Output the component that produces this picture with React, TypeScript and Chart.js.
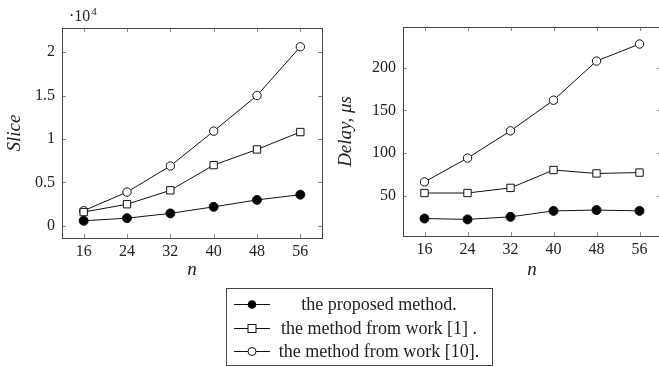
import React, { useEffect, useRef } from "react";
import { Chart, registerables } from "chart.js";
Chart.register(...registerables);

const nValues = [16, 24, 32, 40, 48, 56];
const sliceProposed = [600, 900, 1450, 2200, 3000, 3600];
const sliceWork1 = [1600, 2500, 4100, 7000, 8800, 10800];
const sliceWork10 = [1750, 3900, 6900, 10900, 15000, 20600];
const delayProposed = [23, 22, 25, 32, 33, 32];
const delayWork1 = [53, 53, 59, 80, 76, 77];
const delayWork10 = [66, 94, 126, 162, 208, 228];
const xTicks = [16, 24, 32, 40, 48, 56];
const sliceTicks = [0, 5000, 10000, 15000, 20000];
const sliceTickLabels = ["0", "0.5", "1", "1.5", "2"];
const delayTicks = [50, 100, 150, 200];
const delayTickLabels = ["50", "100", "150", "200"];
const legendLabels = [
  "the proposed method.",
  "the method from work [1] .",
  "the method from work [10].",
];

const SERIF = "'Liberation Serif', 'DejaVu Serif', serif";
const TEXT = "#222";

const framePlugin = {
  id: "frame",
  beforeDatasetsDraw(chart: any, _args: any, opts: any) {
    const { ctx, chartArea: a, scales } = chart;
    const tl = 4;
    ctx.save();
    ctx.strokeStyle = "#8a8a8a";
    ctx.lineWidth = 1;
    ctx.beginPath();
    for (const t of scales.x.ticks) {
      const px = Math.round(scales.x.getPixelForValue(t.value)) + 0.5;
      ctx.moveTo(px, a.bottom);
      ctx.lineTo(px, a.bottom - tl);
      ctx.moveTo(px, a.top);
      ctx.lineTo(px, a.top + tl);
    }
    for (const t of scales.y.ticks) {
      const py = Math.round(scales.y.getPixelForValue(t.value)) + 0.5;
      ctx.moveTo(a.left, py);
      ctx.lineTo(a.left + tl, py);
      ctx.moveTo(a.right, py);
      ctx.lineTo(a.right - tl, py);
    }
    ctx.stroke();
    ctx.strokeStyle = "#444";
    ctx.strokeRect(
      Math.round(a.left) + 0.5,
      Math.round(a.top) + 0.5,
      Math.round(a.right - a.left),
      Math.round(a.bottom - a.top)
    );
    if (opts && opts.multiplier) {
      ctx.fillStyle = TEXT;
      ctx.textBaseline = "alphabetic";
      ctx.textAlign = "left";
      ctx.font = `16px ${SERIF}`;
      ctx.fillText("\u00b710", 69, 21);
      const w = ctx.measureText("\u00b710").width;
      ctx.font = `11px ${SERIF}`;
      ctx.fillText("4", 69 + w + 1, 15);
    }
    ctx.restore();
  },
};

function makeDatasets(p: number[], w1: number[], w10: number[]) {
  const pts = (arr: number[]) => nValues.map((x, i) => ({ x, y: arr[i] }));
  const base = {
    borderColor: "#111",
    borderWidth: 1,
    pointBorderColor: "#111",
    pointBorderWidth: 1,
    tension: 0,
  };
  return [
    {
      ...base,
      label: legendLabels[0],
      data: pts(p),
      pointStyle: "circle",
      pointRadius: 4.5,
      pointBackgroundColor: "#000",
    },
    {
      ...base,
      label: legendLabels[1],
      data: pts(w1),
      pointStyle: "rect",
      pointRadius: 5.2,
      pointBackgroundColor: "#fff",
    },
    {
      ...base,
      label: legendLabels[2],
      data: pts(w10),
      pointStyle: "circle",
      pointRadius: 4.2,
      pointBackgroundColor: "#fff",
    },
  ];
}

type PanelProps = {
  left: number;
  width: number;
  yWidth: number;
  padTop: number;
  padRight: number;
  xHeight: number;
  yMin: number;
  yMax: number;
  yTicks: number[];
  yLabels: string[];
  yTitle: string;
  titlePad: number;
  datasets: any[];
  multiplier?: boolean;
};

function Panel(props: PanelProps) {
  const ref = useRef<HTMLCanvasElement | null>(null);
  useEffect(() => {
    if (!ref.current) return;
    const tickFont = { family: SERIF, size: 16 };
    const titleFont = { family: SERIF, size: 19, style: "italic" as const };
    const chart = new Chart(ref.current, {
      type: "line",
      data: { datasets: props.datasets },
      plugins: [framePlugin],
      options: {
        animation: false,
        responsive: false,
        maintainAspectRatio: false,
        layout: {
          padding: { top: props.padTop, right: props.padRight, left: 0, bottom: 0 },
        },
        plugins: {
          legend: { display: false },
          tooltip: { enabled: false },
          frame: { multiplier: !!props.multiplier },
        } as any,
        scales: {
          x: {
            type: "linear",
            min: 12,
            max: 60,
            grid: { display: false, drawTicks: false },
            border: { display: false },
            afterBuildTicks: (s: any) => {
              s.ticks = xTicks.map((v) => ({ value: v }));
            },
            afterFit: (s: any) => {
              s.height = props.xHeight;
            },
            ticks: {
              font: tickFont,
              color: TEXT,
              padding: 4,
              maxRotation: 0,
              callback: (v: any) => String(v),
            },
            title: {
              display: true,
              text: "n",
              font: titleFont,
              color: TEXT,
              padding: { top: 0, bottom: 9 },
            },
          },
          y: {
            type: "linear",
            min: props.yMin,
            max: props.yMax,
            grid: { display: false, drawTicks: false },
            border: { display: false },
            afterBuildTicks: (s: any) => {
              s.ticks = props.yTicks.map((v) => ({ value: v }));
            },
            afterFit: (s: any) => {
              s.width = props.yWidth;
            },
            ticks: {
              font: tickFont,
              color: TEXT,
              padding: 7,
              callback: (v: any) => {
                const i = props.yTicks.indexOf(Number(v));
                return i >= 0 ? props.yLabels[i] : "";
              },
            },
            title: {
              display: true,
              text: props.yTitle,
              font: titleFont,
              color: TEXT,
              padding: { top: props.titlePad, bottom: 0 },
            },
          },
        },
      } as any,
    });
    return () => chart.destroy();
  }, []);
  return (
    <canvas
      ref={ref}
      width={props.width}
      height={290}
      style={{ position: "absolute", left: props.left, top: 0, width: props.width, height: 290 }}
    />
  );
}

function Marker({ kind }: { kind: number }) {
  return (
    <svg width={40} height={14} style={{ position: "absolute", left: 6, top: -7 }}>
      <line x1={1} y1={7.5} x2={37} y2={7.5} stroke="#111" strokeWidth={1} />
      {kind === 0 && <circle cx={19} cy={7.5} r={4.3} fill="#000" />}
      {kind === 1 && (
        <rect x={15} y={3.5} width={8} height={8} fill="#fff" stroke="#111" strokeWidth={1} />
      )}
      {kind === 2 && <circle cx={19} cy={7.5} r={4} fill="#fff" stroke="#111" strokeWidth={1} />}
    </svg>
  );
}

export default function App() {
  const rows = [16, 39.5, 63];
  return (
    <div
      style={{
        position: "fixed",
        left: 0,
        top: 0,
        width: 659,
        height: 367,
        overflow: "hidden",
        background: "#fff",
      }}
    >
      <Panel
        left={0}
        width={330}
        yWidth={62}
        padTop={28}
        padRight={8}
        xHeight={52}
        yMin={-1380}
        yMax={22760}
        yTicks={sliceTicks}
        yLabels={sliceTickLabels}
        yTitle="Slice"
        titlePad={4}
        datasets={makeDatasets(sliceProposed, sliceWork1, sliceWork10)}
        multiplier
      />
      <Panel
        left={330}
        width={340}
        yWidth={73}
        padTop={27}
        padRight={9}
        xHeight={54}
        yMin={2.5}
        yMax={248}
        yTicks={delayTicks}
        yLabels={delayTickLabels}
        yTitle={"Delay, \u03bcs"}
        titlePad={5}
        datasets={makeDatasets(delayProposed, delayWork1, delayWork10)}
      />
      <div
        style={{
          position: "absolute",
          left: 226,
          top: 288,
          width: 267,
          height: 78,
          boxSizing: "border-box",
          border: "1px solid #444",
          fontFamily: SERIF,
          fontSize: 18,
          color: TEXT,
        }}
      >
        {legendLabels.map((lab, i) => (
          <div key={i} style={{ position: "absolute", left: 0, top: rows[i] - 1, width: "100%", height: 0 }}>
            <Marker kind={i} />
            <div
              style={{
                position: "absolute",
                left: 48,
                width: 208,
                top: -11,
                height: 22,
                lineHeight: "22px",
                textAlign: "center",
                whiteSpace: "nowrap",
              }}
            >
              {lab}
            </div>
          </div>
        ))}
      </div>
    </div>
  );
}
